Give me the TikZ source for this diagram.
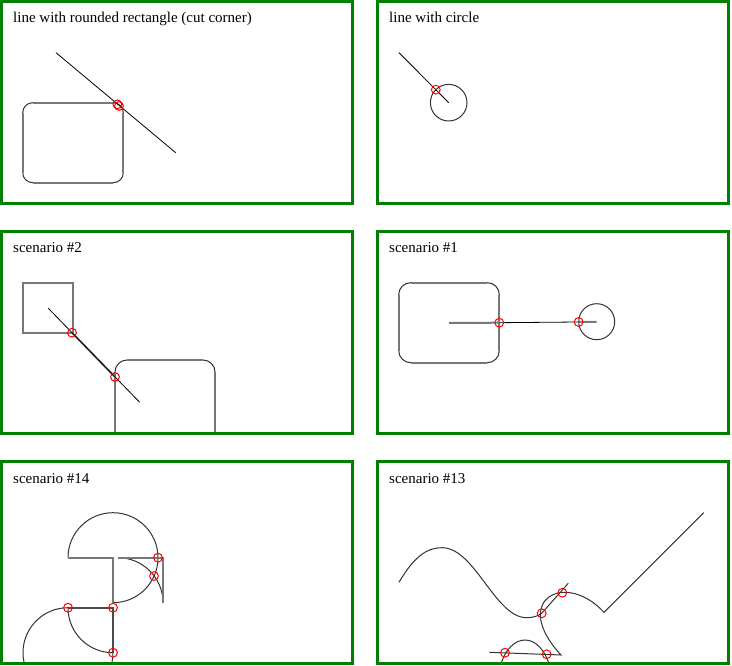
\documentclass[tikz,border=0pt]{standalone}
\usepackage{fontspec}
\setmainfont{Liberation Serif}
\usepackage{xcolor}
\definecolor{framegreen}{RGB}{0,128,0}
\definecolor{sidegray}{RGB}{120,120,120}

\tikzset{
  frame/.style={draw=framegreen, line width=3pt},
  title/.style={anchor=base west, inner sep=0pt, font=\fontsize{15}{18}\selectfont},
  probe/.style={draw=black, line width=0.8pt},
  rim/.style={draw=black!80, line width=1pt},
  shapeside/.style={draw=sidegray, line width=2pt},
  darkside/.style={draw=black!70, line width=2pt},
  hit/.style={draw=red, line width=1pt}
}

\begin{document}
\begin{tikzpicture}[x=1pt,y=-1pt]
\useasboundingbox (0,0) rectangle (732,666);

% line with rounded rectangle
\begin{scope}
\clip (3,3) rectangle (351,202);
\draw[rim, rounded corners=10pt] (22.7,102.7) rectangle (123.3,182.7);
\draw[shapeside] (32.7,102.7) -- (113.3,102.7) (123.3,112.7) -- (123.3,172.7)
  (113.3,182.7) -- (32.7,182.7) (22.7,172.7) -- (22.7,112.7);
\draw[probe] (56,52.7) -- (175.7,152.7);
\draw[hit] (117.4,104.4) circle (4.4) (119,106) circle (4.4);
\end{scope}

% line with circle
\begin{scope}
\clip (379,3) rectangle (727,202);
\draw[rim] (448.7,102.7) circle (18.3);
\draw[probe] (399,52.7) -- (448.7,102.7);
\draw[hit] (435.8,89.7) circle (4.4);
\end{scope}

% scenario #2
\begin{scope}
\clip (3,233) rectangle (351,432);
\draw[shapeside] (22.7,282.7) rectangle (73,332.7);
\draw[rim, rounded corners=12pt] (115,360) rectangle (215,445);
\draw[shapeside] (127,360) -- (203,360) (215,372) -- (215,433) (115,372) -- (115,433);
\draw[shapeside] (72,332.7) -- (115,377);
\draw[probe] (48.3,308.3) -- (139.7,402.3);
\draw[hit] (72,332.7) circle (4.4) (115,377) circle (4.4);
\end{scope}

% scenario #1
\begin{scope}
\clip (379,233) rectangle (727,432);
\draw[rim, rounded corners=12pt] (398.7,282.7) rectangle (499.3,362.7);
\draw[shapeside] (410.7,282.7) -- (487.3,282.7) (499.3,294.7) -- (499.3,350.7)
  (487.3,362.7) -- (410.7,362.7) (398.7,350.7) -- (398.7,294.7);
\draw[rim] (596.7,321.7) circle (18);
\draw[probe] (499.3,322.7) -- (578.7,322);
\draw[shapeside] (449,323) -- (499.3,322.7) (578.7,322) -- (596.7,321.9);
\draw[hit] (499.3,322.7) circle (4.4) (578.7,322) circle (4.4);
\end{scope}

% scenario #14
\begin{scope}
\clip (3,463) rectangle (351,662);
\draw[rim] (68,557.7) arc[start angle=180, end angle=450, radius=45];
\draw[shapeside] (113,602.7) -- (113,557.7) -- (68,557.7);
\draw[rim] (118,557.7) arc[start angle=270, end angle=360, radius=45];
\draw[shapeside] (118,557.7) -- (163,557.7) -- (163,602.7);
\draw[rim] (68,607.7) arc[start angle=180, end angle=90, radius=45];
\draw[darkside] (68,607.7) -- (113,607.7) -- (113,652.7);
\draw[rim] (68,607.7) arc[start angle=270, end angle=0, radius=45];
\foreach \p in {(68,607.7),(113,607.7),(113,652.7),(158,557.7),(154,576)}
  \draw[hit] \p circle (4.4);
\end{scope}

% scenario #13
\begin{scope}
\clip (379,463) rectangle (727,662);
\draw[rim] (399,582.3) .. controls (415,555) and (428,547.7) .. (442,547.7)
  .. controls (475,547.7) and (495,617.7) .. (526.7,617.7)
  .. controls (533,617.7) and (538,616) .. (541.7,613.3) -- (568.3,583.3);
\draw[rim] (489.3,652.3) -- (561,655) .. controls (510,600) and (565,570) .. (604,612.3)
  -- (703.7,512.7);
\draw[rim] (500,667) .. controls (510,631) and (540,631) .. (550,667);
\foreach \p in {(541.7,613.3),(562.3,592.7),(505,652.7),(546.7,654.3)}
  \draw[hit] \p circle (4.4);
\end{scope}

\foreach \x/\y in {0/0,376/0,0/230,376/230,0/460,376/460}
  \draw[frame] (\x+1.5,\y+1.5) rectangle ++(351,202);

\node[title] (t1) at (13,23) {line with rounded rectangle (cut corner)};
\node[title] (t2) at (389,23) {line with circle};
\node[title] (t3) at (13,253) {scenario \#2};
\node[title] (t4) at (389,253) {scenario \#1};
\node[title] (t5) at (13,483) {scenario \#14};
\node[title] (t6) at (389,483) {scenario \#13};
\end{tikzpicture}
\end{document}
